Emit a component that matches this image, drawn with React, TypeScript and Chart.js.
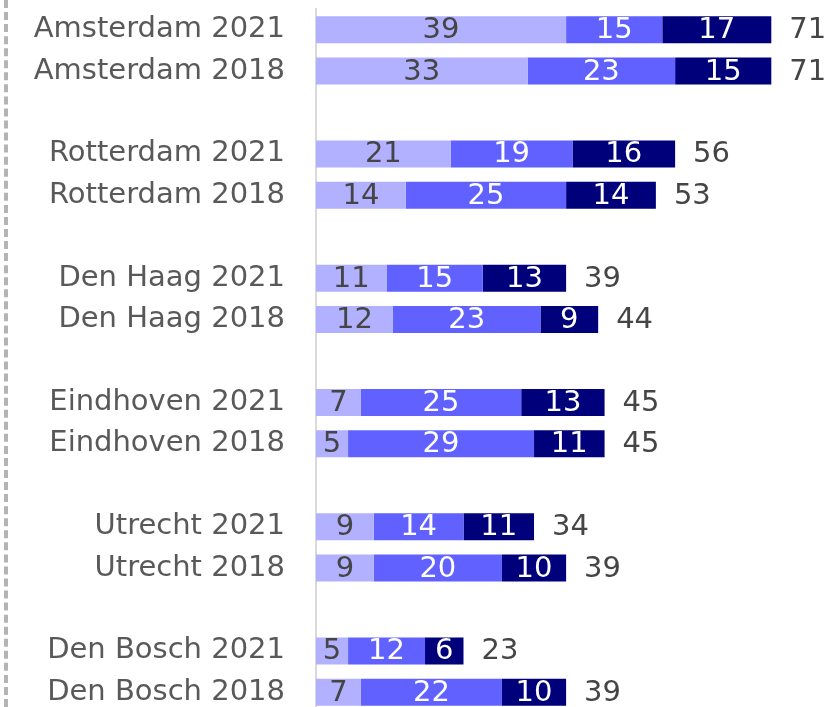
import React, { useEffect, useRef } from "react";
import { Chart, registerables } from "chart.js";

Chart.register(...registerables);

const categories = [
  "Amsterdam 2021", "Amsterdam 2018", "",
  "Rotterdam 2021", "Rotterdam 2018", "",
  "Den Haag 2021", "Den Haag 2018", "",
  "Eindhoven 2021", "Eindhoven 2018", "",
  "Utrecht 2021", "Utrecht 2018", "",
  "Den Bosch 2021", "Den Bosch 2018",
];

const seriesLight = [39, 33, null, 21, 14, null, 11, 12, null, 7, 5, null, 9, 9, null, 5, 7];
const seriesMid = [15, 23, null, 19, 25, null, 15, 23, null, 25, 29, null, 14, 20, null, 12, 22];
const seriesDark = [17, 15, null, 16, 14, null, 13, 9, null, 13, 11, null, 11, 10, null, 6, 10];

const FONT = "'DejaVu Sans', sans-serif";
const FONT_SIZE = 29;

const labelPlugin = {
  id: "segLabels",
  afterDatasetsDraw(chart: any) {
    const ctx = chart.ctx;
    ctx.save();
    ctx.font = `${FONT_SIZE}px ${FONT}`;
    ctx.textBaseline = "middle";
    const n = chart.data.datasets.length;
    chart.data.datasets.forEach((ds: any, di: number) => {
      const meta = chart.getDatasetMeta(di);
      meta.data.forEach((el: any, i: number) => {
        const v = ds.data[i];
        if (v == null) return;
        ctx.fillStyle = di === 0 ? "#454545" : "#ffffff";
        ctx.textAlign = "center";
        ctx.fillText(String(v), (el.x + el.base) / 2, el.y + 1);
        if (di === n - 1) {
          let total = 0;
          chart.data.datasets.forEach((d: any) => (total += d.data[i] || 0));
          ctx.fillStyle = "#454545";
          ctx.textAlign = "left";
          ctx.fillText(String(total), el.x + 18, el.y + 1);
        }
      });
    });
    ctx.restore();
  },
};

export default function App() {
  const ref = useRef<HTMLCanvasElement>(null);
  useEffect(() => {
    const chart = new Chart(ref.current!, {
      type: "bar",
      data: {
        labels: categories,
        datasets: [
          { data: seriesLight, backgroundColor: "#b1b1ff" },
          { data: seriesMid, backgroundColor: "#6161ff" },
          { data: seriesDark, backgroundColor: "#00007a" },
        ],
      },
      options: {
        indexAxis: "y",
        responsive: false,
        animation: false,
        layout: { padding: { top: 9, bottom: 0, left: 0, right: 0 } },
        datasets: { bar: { barPercentage: 0.652, categoryPercentage: 1 } },
        plugins: { legend: { display: false }, tooltip: { enabled: false } },
        scales: {
          x: { display: false, stacked: true, min: 0, max: 81.4 },
          y: {
            stacked: true,
            afterFit: (s: any) => {
              s.width = 316;
              s.paddingTop = 0;
              s.paddingBottom = 0;
            },
            grid: { display: false, drawTicks: false },
            border: { display: true, color: "#d9d9d9", width: 2 },
            ticks: {
              padding: 31,
              color: "#595959",
              font: { family: FONT, size: FONT_SIZE },
              autoSkip: false,
            },
          },
        },
      },
      plugins: [labelPlugin],
    } as any);
    return () => chart.destroy();
  }, []);
  return (
    <div style={{ position: "absolute", left: 0, top: 0, width: 838, height: 707, overflow: "hidden", background: "#fff" }}>
      <div style={{ position: "absolute", left: 4, top: 0, height: 707, width: 0, borderLeft: "4px dashed #b4b4b4" }} />
      <canvas ref={ref} width={838} height={713} style={{ position: "absolute", left: 0, top: 0 }} />
    </div>
  );
}
